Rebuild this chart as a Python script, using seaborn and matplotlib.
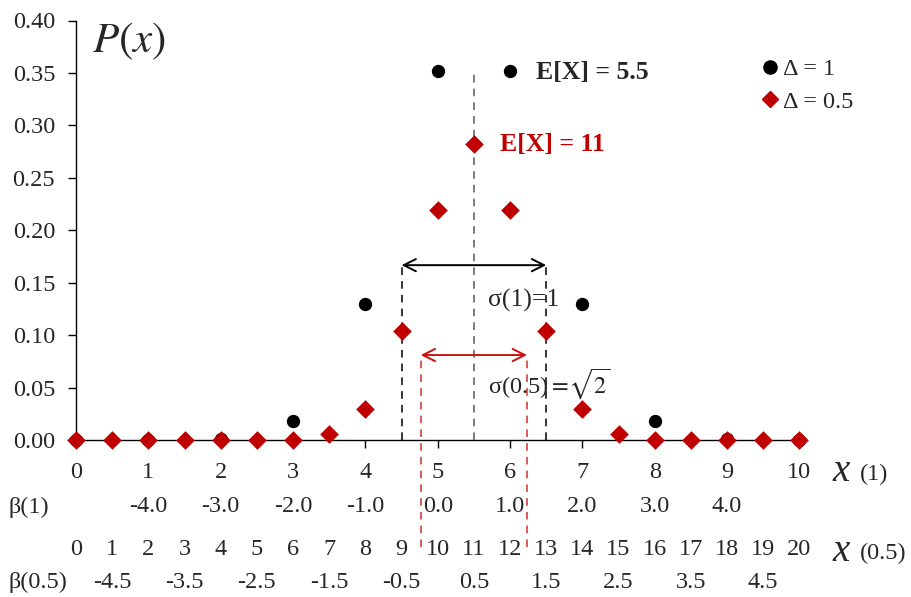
import numpy as np
import pandas as pd
import matplotlib
matplotlib.use("Agg")
import matplotlib.pyplot as plt
from matplotlib.lines import Line2D
import seaborn as sns

# ---- data ----
x_d1 = [0, 1, 2, 3, 4, 5, 6, 7, 8, 9, 10]
p_d1 = [0.000, 0.000, 0.001, 0.018, 0.130, 0.352, 0.352, 0.130, 0.018, 0.001, 0.000]
x_d05 = [0, 0.5, 1, 1.5, 2, 2.5, 3, 3.5, 4, 4.5, 5, 5.5, 6, 6.5, 7, 7.5, 8, 8.5, 9, 9.5, 10]
p_d05 = [0, 0, 0, 0, 0, 0, 0, 0.006, 0.030, 0.104, 0.219, 0.282, 0.219, 0.104, 0.030,
         0.006, 0, 0, 0, 0, 0]
mean_x = 5.5
sigma_1 = 1.0
sigma_05 = 0.735          # sqrt(2) in units of 0.5, as drawn
x1_ticks = list(range(0, 11))
beta1_at = [1, 2, 3, 4, 5, 6, 7, 8, 9]
beta1_labels = ["-4.0", "-3.0", "-2.0", "-1.0", "0.0", "1.0", "2.0", "3.0", "4.0"]
x05_labels = [str(i) for i in range(0, 21)]
beta05_at = [1, 3, 5, 7, 9, 11, 13, 15, 17, 19]  # in x(0.5) units
beta05_labels = ["-4.5", "-3.5", "-2.5", "-1.5", "-0.5", "0.5", "1.5", "2.5", "3.5", "4.5"]
y_ticks = [0.00, 0.05, 0.10, 0.15, 0.20, 0.25, 0.30, 0.35, 0.40]

RED = "#c00000"
FS = 17.5

sns.set_style("ticks")
plt.rcParams["font.family"] = ["Liberation Serif", "DejaVu Serif"]
plt.rcParams["mathtext.fontset"] = "stix"

fig = plt.figure(figsize=(9.11, 5.97), dpi=100)
ax = fig.add_axes([76 / 911, 1 - 440 / 597, (803 - 76) / 911, 419.5 / 597])

df1 = pd.DataFrame({"x": x_d1, "p": p_d1})
df05 = pd.DataFrame({"x": x_d05, "p": p_d05})

dash = (0, (5, 4))
# guide lines
ax.plot([mean_x, mean_x], [0, 0.352], color="#595959", lw=1.1, ls=dash, zorder=1)
for xv in (mean_x - sigma_1, mean_x + sigma_1):
    ax.plot([xv, xv], [0, 0.1667], color="black", lw=1.1, ls=dash, zorder=1)
for xv in (mean_x - sigma_05, mean_x + sigma_05):
    ax.plot([xv, xv], [-0.102, 0.081], color="#d03030", lw=1.1, ls=dash, zorder=1,
            clip_on=False)

ax.annotate("", xy=(mean_x - sigma_1, 0.1667), xytext=(mean_x + sigma_1, 0.1667),
            arrowprops=dict(arrowstyle="<->", color="black", lw=1.4, mutation_scale=22,
                            shrinkA=0, shrinkB=0))
ax.annotate("", xy=(mean_x - sigma_05, 0.081), xytext=(mean_x + sigma_05, 0.081),
            arrowprops=dict(arrowstyle="<->", color="#cc1010", lw=1.4, mutation_scale=22,
                            shrinkA=0, shrinkB=0))

sns.scatterplot(data=df1, x="x", y="p", ax=ax, color="black", marker="o", s=92,
                linewidth=0, clip_on=False, zorder=3)
sns.scatterplot(data=df05, x="x", y="p", ax=ax, color=RED, marker="D", s=90,
                linewidth=0, clip_on=False, zorder=4)

ax.set_xlim(0, 10.05)
ax.set_ylim(0, 0.40)
ax.set_yticks(y_ticks)
ax.set_yticklabels([f"{v:.2f}" for v in y_ticks], fontsize=FS)
ax.set_xticks(x1_ticks)
ax.set_xticklabels([str(v) for v in x1_ticks], fontsize=FS)
ax.tick_params(axis="both", direction="out", length=6, width=1, color="black")
ax.tick_params(axis="x", pad=10)
ax.tick_params(axis="y", pad=9)
ax.set_xlabel("")
ax.set_ylabel("")
for s in ("top", "right"):
    ax.spines[s].set_visible(False)
for s in ("left", "bottom"):
    ax.spines[s].set_color("black")
    ax.spines[s].set_linewidth(1)

# texts
ax.text(0.22, 0.380, r"$\mathit{P}\mathrm{(}\mathit{x}\mathrm{)}$", fontsize=31,
        va="center", ha="left")
ax.text(6.36, 0.350, "E[X] = 5.5", fontsize=18.5, fontweight="bold", va="center", ha="left")
ax.text(5.86, 0.282, "E[X] = 11", fontsize=18.5, fontweight="bold", color=RED,
        va="center", ha="left")
ax.text(5.69, 0.1333, "σ(1)=1", fontsize=18.5, va="center", ha="left")
ax.text(5.69, 0.054, r"σ(0.5)$=\!\sqrt{2}$", fontsize=17.5, va="center", ha="left")

# extra axis rows
for xb, lab in zip(beta1_at, beta1_labels):
    ax.text(xb, -0.0638, lab, fontsize=FS, ha="center", va="center", clip_on=False)
for i, lab in enumerate(x05_labels):
    ax.text(i * 0.5, -0.1048, lab, fontsize=FS, ha="center", va="center", clip_on=False)
for xb, lab in zip(beta05_at, beta05_labels):
    ax.text(xb * 0.5, -0.136, lab, fontsize=FS, ha="center", va="center", clip_on=False)
ax.text(-0.935, -0.0638, "β(1)", fontsize=FS, ha="left", va="center", clip_on=False)
ax.text(-0.935, -0.136, "β(0.5)", fontsize=FS, ha="left", va="center", clip_on=False)

ax.text(10.46, -0.039, "x", fontsize=28, style="italic", ha="left", va="baseline",
        clip_on=False)
ax.text(10.83, -0.038, "(1)", fontsize=FS, ha="left", va="baseline", clip_on=False)
ax.text(10.46, -0.1152, "x", fontsize=28, style="italic", ha="left", va="baseline",
        clip_on=False)
ax.text(10.83, -0.1133, "(0.5)", fontsize=FS, ha="left", va="baseline", clip_on=False)

handles = [Line2D([], [], marker="o", color="black", ls="none", markersize=9.5),
           Line2D([], [], marker="D", color=RED, ls="none", markersize=8.5)]
leg = ax.legend(handles, ["Δ = 1", "Δ = 0.5"], loc="upper left", frameon=False,
                bbox_to_anchor=(760 / 911, 1 - 58 / 597), bbox_transform=fig.transFigure,
                fontsize=FS, handlelength=0.8, handletextpad=0.15, labelspacing=0.45,
                borderaxespad=0, borderpad=0)

fig.savefig("out.png", dpi=100)
